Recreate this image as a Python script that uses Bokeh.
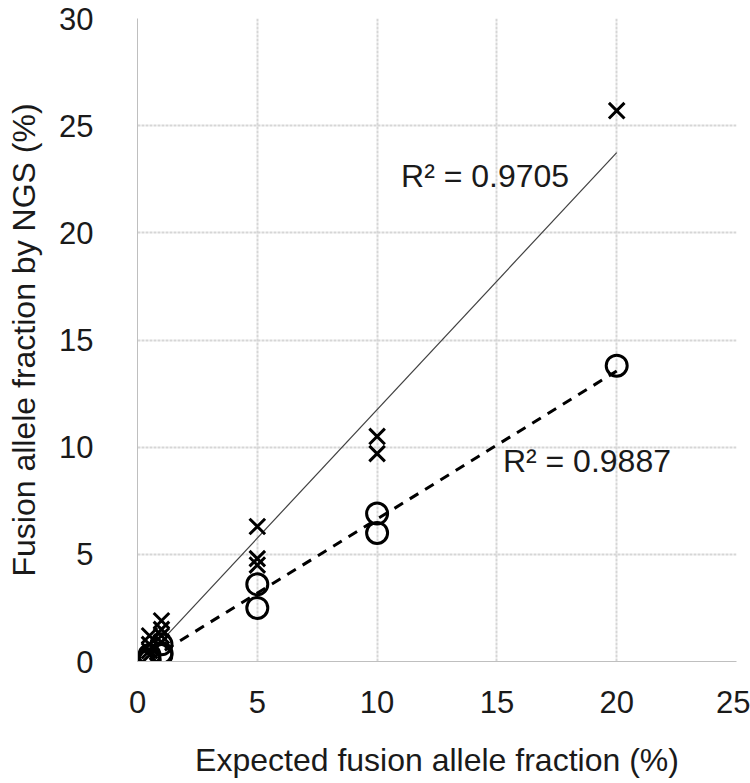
import numpy as np
from bokeh.plotting import figure
from bokeh.models import Range1d, FixedTicker, ColumnDataSource
from bokeh.embed import file_html
from bokeh.resources import INLINE
from bokeh.core.properties import value

# Crosses series (solid trendline)
cross_x = [0.5, 0.5, 0.5, 0.5, 1, 1, 1, 1, 5, 5, 5, 10, 10, 20]
cross_y = [1.2, 0.8, 0.5, 0.3, 1.9, 1.5, 1.2, 0.9, 6.3, 4.8, 4.5, 10.5, 9.7, 25.7]
# Circles series (dashed trendline)
circ_x = [0.5, 0.5, 0.5, 1, 1, 1, 5, 5, 10, 10, 20]
circ_y = [0.3, 0.1, 0.05, 0.8, 0.4, 0.3, 3.6, 2.5, 6.9, 6.0, 13.8]

r2_labels = ["R\u00b2 = 0.9705", "R\u00b2 = 0.9887"]
r2_x = [11.0, 15.25]
r2_y = [22.65, 9.35]

x_ticks = [0, 5, 10, 15, 20, 25]
y_ticks = [0, 5, 10, 15, 20, 25, 30]

FONT = "Liberation Sans"

p = figure(width=750, height=783, output_backend="svg", toolbar_location=None,
           x_range=Range1d(0, 25), y_range=Range1d(0, 30),
           min_border_left=137, min_border_right=14, min_border_top=18, min_border_bottom=122)
p.outline_line_color = None

for ax in (p.xaxis[0], p.yaxis[0]):
    ax.major_tick_line_color = None
    ax.minor_tick_line_color = None
    ax.axis_line_color = "#bfbfbf"
    ax.axis_line_width = 1
    ax.major_label_text_font = FONT
    ax.major_label_text_font_size = "31px"
    ax.major_label_text_color = "#1a1a1a"
    ax.axis_label_text_font = FONT
    ax.axis_label_text_font_size = "32px"
    ax.axis_label_text_font_style = "normal"
    ax.axis_label_text_color = "#1a1a1a"

p.xaxis.ticker = FixedTicker(ticks=x_ticks)
p.yaxis.ticker = FixedTicker(ticks=y_ticks)
p.xaxis.major_label_standoff = 23
p.yaxis.major_label_standoff = 38
p.xaxis.axis_label = "Expected fusion allele fraction (%)"
p.yaxis.axis_label = "Fusion allele fraction by NGS (%)"
p.xaxis.axis_label_standoff = 26
p.yaxis.axis_label_standoff = 14

p.xgrid.ticker = FixedTicker(ticks=x_ticks)
p.ygrid.ticker = FixedTicker(ticks=y_ticks)
p.grid.grid_line_color = "#d6d6d6"
p.grid.grid_line_width = 2
p.grid.grid_line_dash = "3 1"

# trendlines (least-squares fit of each series)
def fit(xs, ys):
    xs = np.array(xs, float); ys = np.array(ys, float)
    m, b = np.polyfit(xs, ys, 1)
    xe = np.array([xs.min(), xs.max()])
    return xe, m * xe + b

cx, cy = fit(cross_x, cross_y)
p.line(cx, cy, line_color="#404040", line_width=1.2)
ox, oy = fit(circ_x, circ_y)
p.line(ox, oy, line_color="black", line_width=3, line_dash="10 8")

p.scatter(cross_x, cross_y, marker="x", size=22, line_color="black", line_width=3)
p.scatter(circ_x, circ_y, marker="circle", size=21, line_color="black", line_width=3,
          fill_color=None)

src = ColumnDataSource(dict(x=r2_x, y=r2_y, t=r2_labels))
p.text(x="x", y="y", text="t", source=src, text_font=value(FONT), text_font_size="32px",
       text_baseline="middle", text_align="left", text_color="#1a1a1a")

open("out.html", "w").write(file_html(p, INLINE))
